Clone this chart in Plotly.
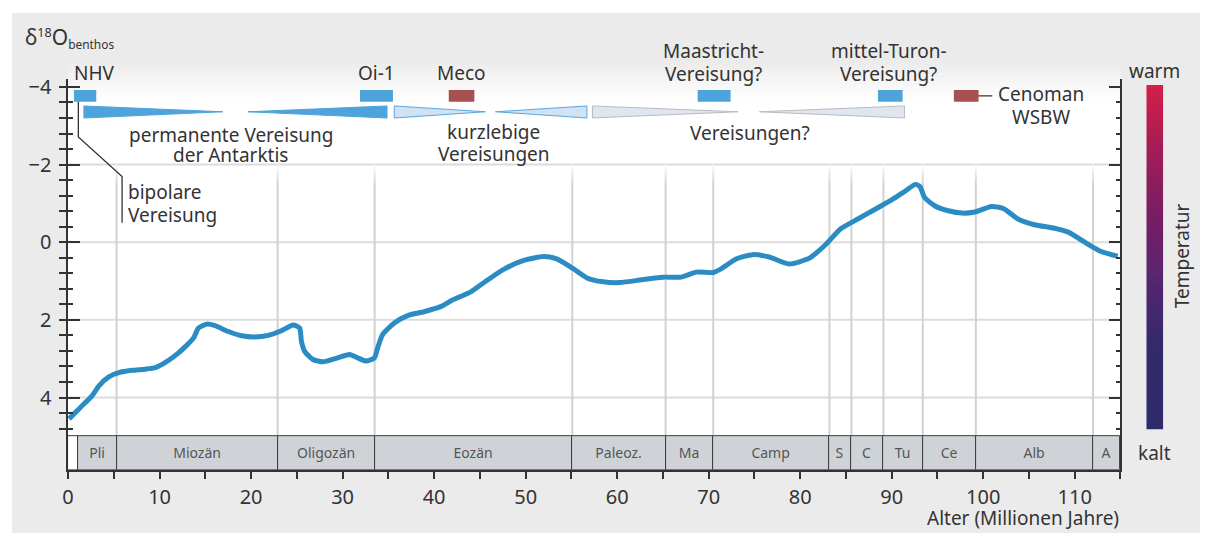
import numpy as np
import plotly.graph_objects as go

W, H = 1205, 533

# ---------------- data ----------------
age = [0.1, 1.37, 2.64, 3.37, 4.45, 5.54, 7.0, 8.44, 9.53, 10.6, 12.07, 13.7, 14.25, 15.16,
       16.06, 17.5, 18.97, 20.4, 21.86, 23.3, 24.6, 25.3, 25.5, 25.85, 26.76, 27.85, 29.3,
       30.75, 31.65, 32.57, 33.47, 33.83, 34.37, 35.65, 37.1, 38.9, 40.7, 42.0, 44.0, 45.8,
       47.6, 49.8, 52.0, 53.4, 55.2, 56.7, 58.5, 60.3, 62.9, 65.0, 67.0, 68.65, 70.5, 71.4,
       73.0, 74.8, 76.6, 78.8, 81.0, 82.8, 84.4, 86.4, 88.2, 90.0, 91.5, 92.6, 93.1, 93.6,
       94.7, 96.2, 97.7, 99.1, 100.9, 102.2, 103.8, 105.6, 107.8, 109.3, 111.1, 112.9, 114.7]
d18o = [4.55, 4.25, 3.95, 3.70, 3.47, 3.36, 3.30, 3.27, 3.23, 3.10, 2.85, 2.47, 2.21, 2.11,
        2.15, 2.30, 2.41, 2.44, 2.40, 2.28, 2.13, 2.21, 2.55, 2.81, 3.02, 3.08, 2.99,
        2.89, 2.98, 3.06, 2.98, 2.72, 2.38, 2.08, 1.89, 1.79, 1.66, 1.49, 1.28, 0.98,
        0.70, 0.47, 0.37, 0.43, 0.68, 0.92, 1.02, 1.04, 0.96, 0.90, 0.90, 0.77, 0.78, 0.68,
        0.43, 0.32, 0.38, 0.56, 0.41, 0.06, -0.34, -0.61, -0.85, -1.09, -1.32, -1.49, -1.43, -1.15,
        -0.94, -0.81, -0.75, -0.78, -0.92, -0.87, -0.60, -0.45, -0.36, -0.26, 0.0, 0.24, 0.36]

epoch_names = ["", "Pli", "Miozän", "Oligozän", "Eozän", "Paleoz.", "Ma", "Camp", "S", "C",
               "Tu", "Ce", "Alb", "A"]
epoch_start = [0, 1.05, 5.3, 22.9, 33.5, 55.1, 65.3, 70.5, 83.2, 85.6, 89.1, 93.4, 99.2, 112.0]
epoch_end = [1.05, 5.3, 22.9, 33.5, 55.1, 65.3, 70.5, 83.2, 85.6, 89.1, 93.4, 99.2, 112.0, 115.0]

event_start = [0.64, 31.9, 41.6, 68.8, 88.5, 96.8]
event_end = [3.08, 35.5, 44.4, 72.4, 91.2, 99.5]
event_kind = ["kalt", "kalt", "warm", "kalt", "kalt", "warm"]

wedge_wide = [1.73, 34.85, 35.65, 56.7, 57.3, 91.4]
wedge_tip = [16.9, 19.65, 45.6, 46.7, 73.2, 75.55]
wedge_kind = ["perm", "perm", "kurz", "kurz", "frag", "frag"]

x_ticks = list(range(0, 111, 10))
y_ticks = [-4, -2, 0, 2, 4]
y_minor = [round(-4 + 0.4 * i, 1) for i in range(23)]

# ---------------- styles ----------------
FONT = "Noto Sans"
TXT = "#333333"
BG = "#ebebeb"
GRID = "#dcdcdc"
VGRID = "#d2d2d2"
CURVE = "#2b8cc4"
EV_COL = {"kalt": "#4ea3da", "warm": "#a84f52"}
WEDGE_FILL = {"perm": "#4ea3da", "kurz": "#cfe3f4", "frag": "#dfe6ef"}
WEDGE_LINE = {"perm": "#4ea3da", "kurz": "#5aa6dc", "frag": "#b8bcc2"}

X_DOM = [62.4 / W, 1120 / W]
Y_DOM = [1 - 469 / H, 1 - 74 / H]
Y_RANGE = [5.86, -4.2]
BAR_TOP, BAR_BOT = 5.0, 5.86


def pxx(x):
    return x / W


def pxy(y):
    return 1 - y / H


fig = go.Figure()

# epoch bar
fig.add_trace(go.Bar(
    orientation="h",
    y=[(BAR_TOP + BAR_BOT) / 2] * len(epoch_names),
    x=[e - s for s, e in zip(epoch_start, epoch_end)],
    base=epoch_start,
    width=BAR_BOT - BAR_TOP,
    text=epoch_names,
    textposition="inside",
    insidetextanchor="middle",
    textangle=0,
    textfont=dict(family="Liberation Sans Narrow, " + FONT, size=14, color="#555555"),
    marker=dict(color=["#ffffff"] + ["#cfd3d7"] * (len(epoch_names) - 1),
                line=dict(color="#3a3a3a", width=1)),
    hoverinfo="skip",
    xaxis="x", yaxis="y",
))

# wedges
for wx, tx, k in zip(wedge_wide, wedge_tip, wedge_kind):
    fig.add_trace(go.Scatter(
        x=[wx, tx, wx, wx], y=[-3.51, -3.36, -3.20, -3.51],
        mode="lines", fill="toself", fillcolor=WEDGE_FILL[k],
        line=dict(color=WEDGE_LINE[k], width=1), hoverinfo="skip",
        xaxis="x", yaxis="y"))

# leader lines
fig.add_trace(go.Scatter(x=[1.12, 1.12, 5.9, 5.9], y=[-3.86, -2.71, -1.69, -0.50],
                         mode="lines", line=dict(color="#333333", width=1.3),
                         hoverinfo="skip", xaxis="x", yaxis="y"))
fig.add_trace(go.Scatter(x=[98.9, 101.0], y=[-3.77, -3.77],
                         mode="lines", line=dict(color="#333333", width=1.3),
                         hoverinfo="skip", xaxis="x", yaxis="y"))

# curve
fig.add_trace(go.Scatter(x=age, y=d18o, mode="lines",
                         line=dict(color=CURVE, width=5, shape="spline", smoothing=0.6),
                         hoverinfo="skip", xaxis="x", yaxis="y"))

# temperature colour bar
levels = np.linspace(0, 1, 120)
fig.add_trace(go.Heatmap(
    z=[[v] for v in levels], y=levels, x=[0],
    colorscale=[[0, "#2d2a6c"], [0.25, "#322a6a"], [0.45, "#5a2570"], [0.62, "#781d63"],
                [0.8, "#a01d57"], [1, "#d41f48"]],
    showscale=False, hoverinfo="skip", xaxis="x3", yaxis="y3"))

shapes = []
# grey panel
shapes.append(dict(type="rect", xref="paper", yref="paper", x0=pxx(6), x1=pxx(1200),
                   y0=pxy(533), y1=pxy(7), fillcolor=BG, line=dict(width=0), layer="below"))
# white plot region
shapes.append(dict(type="rect", xref="paper", yref="paper", x0=X_DOM[0], x1=X_DOM[1],
                   y0=Y_DOM[0], y1=pxy(96), fillcolor="white", line=dict(width=0), layer="below"))
# gradient grey -> white at the top
n = 20
top, bot = 56, 96
for i in range(n):
    y0p = top + (bot - top) * i / n
    y1p = top + (bot - top) * (i + 1) / n
    t = (i + 0.5) / n
    g = int(round(235 + (255 - 235) * t))
    shapes.append(dict(type="rect", xref="paper", yref="paper", x0=X_DOM[0], x1=X_DOM[1],
                       y0=pxy(y1p), y1=pxy(y0p) + 0.0005, fillcolor=f"rgb({g},{g},{g})",
                       line=dict(width=0), layer="below"))
# horizontal grid
for yv in [-2, 0, 2, 4]:
    shapes.append(dict(type="line", xref="x", yref="y", x0=0, x1=115, y0=yv, y1=yv,
                       line=dict(color=GRID, width=2), layer="below"))
# vertical epoch lines (fading at top)
for xb in epoch_end[1:-1]:
    shapes.append(dict(type="line", xref="x", yref="y", x0=xb, x1=xb, y0=BAR_TOP, y1=-1.55,
                       line=dict(color=VGRID, width=2), layer="below"))
    for (a, b, c) in [(-1.55, -1.7, "#dddddd"), (-1.7, -1.85, "#e8e8e8"), (-1.85, -2.0, "#f4f4f4")]:
        shapes.append(dict(type="line", xref="x", yref="y", x0=xb, x1=xb, y0=a, y1=b,
                           line=dict(color=c, width=2), layer="below"))
# event rectangles
for s, e, k in zip(event_start, event_end, event_kind):
    shapes.append(dict(type="rect", xref="x", yref="y", x0=s, x1=e, y0=-3.92, y1=-3.62,
                       fillcolor=EV_COL[k], line=dict(width=0), layer="above"))

ann = []


def text(t, x, y, size=19, xanchor="center", **kw):
    ann.append(dict(text=t, x=pxx(x), y=pxy(y), xref="paper", yref="paper",
                    xanchor=xanchor, yanchor="middle", showarrow=False,
                    font=dict(family=FONT, size=size, color=TXT), **kw))


text("δ<span style='font-size:18px'><sup>18</sup></span>O"
     "<span style='font-size:17px'><sub>benthos</sub></span>", 17, 32, size=21, xanchor="left")
text("NHV", 66, 68, xanchor="left")
text("Oi-1", 372, 68)
text("Meco", 458, 68)
text("Maastricht-", 711, 46)
text("Vereisung?", 711, 69)
text("mittel-Turon-", 887, 46)
text("Vereisung?", 887, 69)
text("Cenoman", 1040, 89)
text("WSBW", 1040, 112)
text("permanente Vereisung", 226, 130)
text("der Antarktis", 226, 151)
text("kurzlebige", 490, 127)
text("Vereisungen", 490, 150)
text("Vereisungen?", 748, 128)
text("bipolare", 121, 188, xanchor="left")
text("Vereisung", 121, 211, xanchor="left")
text("warm", 1154, 66)
text("kalt", 1154, 452)
text("Temperatur", 1182, 253, textangle=-90)
text("Alter (Millionen Jahre)", 1121, 518, xanchor="right")

axis_common = dict(linecolor="#333333", linewidth=1.5, tickcolor="#333333", tickwidth=1.5,
                   zeroline=False, showgrid=False)

fig.update_layout(
    width=W, height=H,
    margin=dict(l=0, r=0, t=0, b=0, pad=0),
    paper_bgcolor="white", plot_bgcolor="rgba(0,0,0,0)",
    showlegend=False, barmode="overlay", bargap=0,
    uniformtext=dict(minsize=12, mode="show"),
    font=dict(family=FONT, color=TXT),
    xaxis=dict(domain=X_DOM, range=[0, 115], anchor="y", showline=True,
               tickmode="array", tickvals=x_ticks, ticks="outside", ticklen=8,
               minor=dict(dtick=5, ticks="outside", ticklen=8, tickcolor="#333333", tickwidth=1.5),
               tickfont=dict(family=FONT, size=20, color=TXT), ticklabelstandoff=1,
               fixedrange=True, **axis_common),
    yaxis=dict(domain=Y_DOM, range=Y_RANGE, anchor="x", showline=True,
               tickmode="array", tickvals=y_ticks, ticks="outside", ticklen=7,
               minor=dict(tickmode="array", tickvals=y_minor, ticks="outside", ticklen=7,
                          tickcolor="#333333", tickwidth=1.5),
               tickfont=dict(family=FONT, size=20, color=TXT), ticklabelstandoff=4,
               fixedrange=True, **axis_common),
    yaxis2=dict(overlaying="y", anchor="x", side="left", range=Y_RANGE, showline=True,
                mirror="ticks", tickmode="array", tickvals=y_ticks, ticks="inside", ticklen=12,
                showticklabels=False,
                minor=dict(tickmode="array", tickvals=y_minor, ticks="inside", ticklen=5,
                           tickcolor="#333333", tickwidth=1.5),
                **axis_common),
    xaxis3=dict(domain=[1146 / W, 1163 / W], anchor="y3", visible=False, range=[-0.5, 0.5]),
    yaxis3=dict(domain=[1 - 428 / H, 1 - 80 / H], anchor="x3", visible=False,
                range=[levels[0], levels[-1]]),
    shapes=shapes,
    annotations=ann,
)

# dummy trace to activate y2
fig.add_trace(go.Scatter(x=[None], y=[None], xaxis="x", yaxis="y2", hoverinfo="skip"))

fig.write_html(
    "out.html",
    config={"displayModeBar": False},
    post_script="document.body.style.margin='0px';document.body.style.padding='0px';"
                "document.body.style.overflow='hidden';",
)
